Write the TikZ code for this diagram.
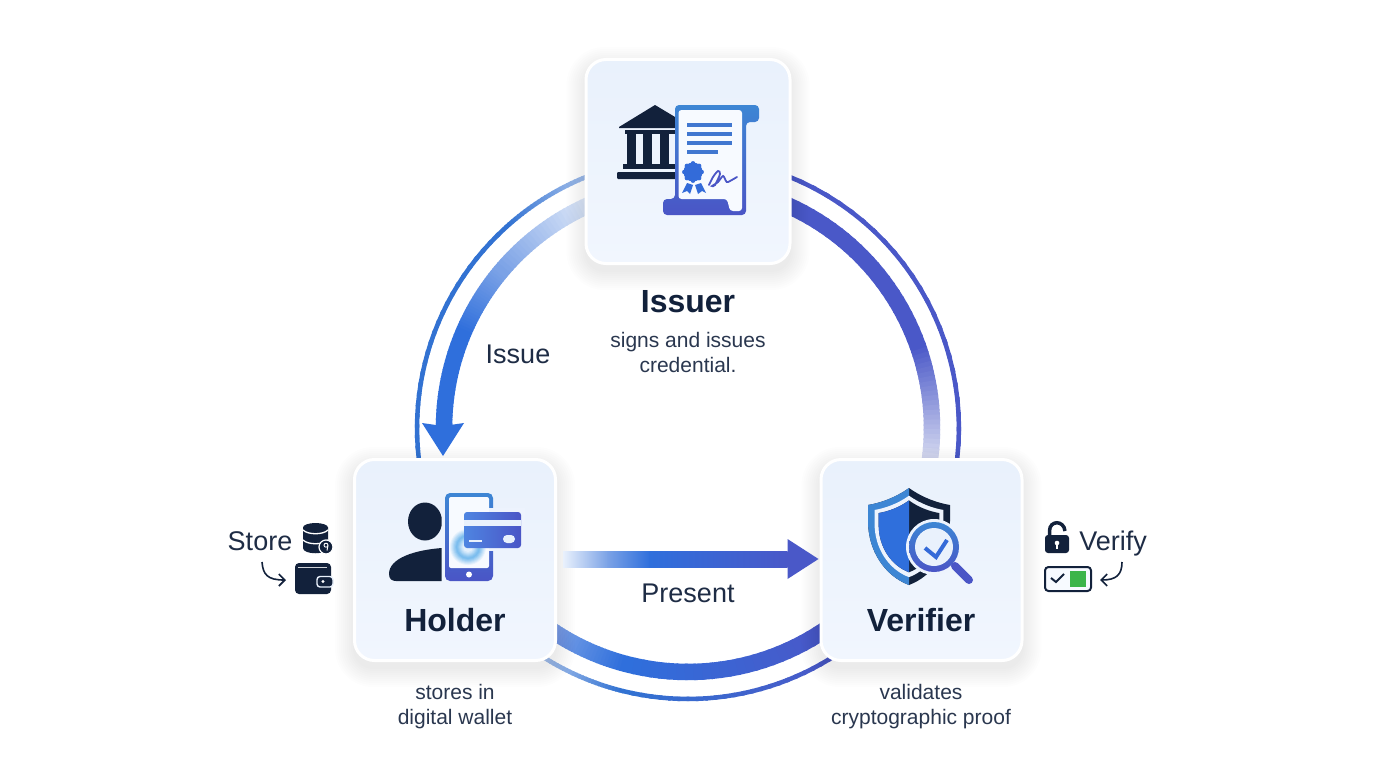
\documentclass[tikz,border=0pt]{standalone}
\usepackage{fontspec}
\setmainfont{Liberation Sans}
\usetikzlibrary{calc,backgrounds,arrows.meta}
\definecolor{inkdark}{HTML}{12213B}
\definecolor{ringblue}{HTML}{2F6FDC}
\definecolor{ringindigo}{HTML}{4A58C8}
\definecolor{ringmid}{HTML}{7BA2E6}
\definecolor{ringfaint}{HTML}{DDE7F8}
\definecolor{ringpale}{HTML}{A9C3EC}
\definecolor{ringfade}{HTML}{D2D6EF}
\definecolor{ringthin}{HTML}{3272D2}
\definecolor{cardtop}{HTML}{E9F1FC}
\definecolor{cardbot}{HTML}{F1F6FE}
\definecolor{cardmid}{HTML}{EDF3FD}
\definecolor{paperwhite}{HTML}{F7FAFF}
\definecolor{iconblue}{HTML}{3D86D4}
\definecolor{iconindigo}{HTML}{4A55C6}
\definecolor{glowblue}{HTML}{6DB6EC}
\definecolor{okgreen}{HTML}{3CB54A}
\newcommand{\ringgrad}[6]{%
	\foreach \i in {0,...,23}{%
		\pgfmathsetmacro\p{100*\i/23}
		\pgfmathsetmacro\a{#3+(#4-#3)*\i/24}
		\pgfmathsetmacro\b{#3+(#4-#3)*(\i+1.3)/24}
		\draw[line width=#2,color=#6!\p!#5] ($(ringc)+(\a:#1)$) -- ($(ringc)+(\b:#1)$);
	}%
}
\newcommand{\cardshadow}[1]{%
	\foreach \i in {0,2,...,18}{%
		\fill[black,opacity=0.007,rounded corners=20+\i] ($(#1.south west)+(-\i,\i+7)$) rectangle ($(#1.north east)+(\i,-\i+7)$);
	}%
}
\tikzset{
	cardbox/.style={draw=white,line width=3,rounded corners=20,top color=cardtop,bottom color=cardbot,minimum width=201,minimum height=201,inner sep=0},
	titletext/.style={inkdark,font=\fontsize{32}{36}\selectfont\bfseries,inner sep=0},
	desctext/.style={color=inkdark!90,font=\fontsize{21}{25}\selectfont,align=center,inner sep=0},
	looptext/.style={color=inkdark!95,font=\fontsize{27}{30}\selectfont,inner sep=0},
	thinarrow/.style={inkdark,line width=1.6,-{Straight Barb[length=6,width=12]}},
	shieldpath/.style={insert path={(0,-48) .. controls (-14,-38) and (-29,-33) .. (-41,-31) -- (-41,-15) .. controls (-41,15) and (-24,40) .. (0,49) .. controls (24,40) and (41,15) .. (41,-15) -- (41,-31) .. controls (29,-33) and (14,-38) .. (0,-48) -- cycle}}
}
\begin{document}
\begin{tikzpicture}[x=1pt,y=-1pt]
	\useasboundingbox (0,0) rectangle (1376,768);
	\coordinate (ringc) at (688,428);
	\node[cardbox,minimum width=204,minimum height=204] (issuer) at (688,161.5) {};
	\node[cardbox] (holder) at (455,560) {};
	\node[cardbox] (verifier) at (921.5,560) {};
	\begin{pgfonlayer}{background}
		\fill[white] (0,0) rectangle (1376,768);
		\ringgrad{244}{16.5}{246}{220}{ringfaint}{ringmid}
		\ringgrad{244}{16.5}{220}{203}{ringmid}{ringblue}
		\ringgrad{244}{16.5}{203}{178}{ringblue}{ringblue}
		\ringgrad{271}{4.5}{249}{228}{ringpale}{ringthin}
		\ringgrad{271}{4.5}{228}{174}{ringthin}{ringthin}
		\ringgrad{244}{16.5}{294}{340}{ringindigo}{ringindigo}
		\ringgrad{244}{16.5}{340}{367}{ringindigo}{ringfade}
		\ringgrad{271}{4.5}{291}{366}{ringindigo}{ringindigo}
		\ringgrad{244}{16.5}{124}{105}{ringmid}{ringblue}
		\ringgrad{244}{16.5}{105}{56}{ringblue}{ringindigo}
		\ringgrad{271}{4.5}{122}{104}{ringpale}{ringthin}
		\ringgrad{271}{4.5}{104}{57}{ringthin}{ringindigo}
		\cardshadow{issuer}
		\cardshadow{holder}
		\cardshadow{verifier}
		\fill[ringblue] (422,423) -- (443,426) -- (464,423) -- (443,456) -- cycle;
	\end{pgfonlayer}
	\coordinate (presentstart) at ($(holder.east)+(6,-1)$);
	\coordinate (presenttip) at ($(verifier.west)+(-1,-1)$);
	\shade[left color=cardtop,right color=ringmid] ($(presentstart)+(0,-8)$) rectangle ($(presentstart)+(45,8)$);
	\shade[left color=ringmid,right color=ringblue] ($(presentstart)+(44.5,-8)$) rectangle ($(presentstart)+(87,8)$);
	\shade[left color=ringblue,right color=ringindigo] ($(presentstart)+(86.5,-8)$) rectangle ($(presenttip)+(-31,8)$);
	\fill[ringindigo] ($(presenttip)+(-31,-20)$) -- (presenttip) -- ($(presenttip)+(-31,20)$) -- cycle;
	\node[titletext] (issuertitle) at (688,302) {Issuer};
	\node[titletext] (holdertitle) at (455,620) {Holder};
	\node[titletext] (verifiertitle) at (921,620) {Verifier};
	\node[desctext] (issuerdesc) at (688,352) {signs and issues\\credential.};
	\node[desctext] (holderdesc) at (455,706.5) {stores in\\digital wallet};
	\node[desctext] (verifierdesc) at (921,706.5) {validates\\cryptographic proof};
	\node[looptext] (issuelabel) at (518,354) {Issue};
	\node[looptext] (presentlabel) at (688,593) {Present};
	\node[looptext,anchor=base] (storelabel) at (260,550) {Store};
	\node[looptext,anchor=base] (verifylabel) at (1113,550) {Verify};

	% bank and scroll
	\fill[inkdark] (655,105) -- (619,127) -- (619,128) -- (680,128) -- (680,120) -- cycle;
	\fill[inkdark] (625,129.5) rectangle (680,134);
	\foreach \x in {627,643,660}{
		\fill[inkdark] (\x,134) rectangle (\x+9,165);
	}
	\fill[inkdark] (623,164) rectangle (680,169);
	\fill[inkdark,rounded corners=1] (617,172) rectangle (680,179);
	\shade[top color=iconblue,bottom color=iconindigo,rounded corners=4] (663,199) -- (675,199) -- (675,105) -- (759,105) -- (759,122) -- (746,122) -- (746,215) -- (663,215) -- cycle;
	\fill[paperwhite,rounded corners=3] (678.5,199) -- (678.5,110) -- (742,110) -- (742,211) -- (730,211) -- (727,199) -- cycle;
	\foreach \y/\e in {125/732,134/732,143/732,152/718}{
		\draw[iconblue!70!iconindigo,line width=3.2] (687,\y) -- (\e,\y);
	}
	\coordinate (seal) at (693,172);
	\fill[ringblue!85!iconindigo] (seal) circle (9.5);
	\foreach \a in {0,45,...,315}{
		\fill[ringblue!85!iconindigo] ($(seal)+(\a:8.5)$) circle (2.4);
	}
	\fill[ringblue!85!iconindigo] (687,183) -- (693,185) -- (690,194) -- (687,191) -- (682,193) -- cycle;
	\fill[ringblue!85!iconindigo] (695,185) -- (701,183) -- (706,193) -- (702,191) -- (698,194) -- cycle;
	\draw[iconindigo,line width=1.8,line cap=round] plot[smooth] coordinates {(709,185) (713,177) (718,171) (720,174) (715,185) (712,186) (718,182) (723,176) (726,181) (728,182) (737,177)};

	% holder icon
	\begin{scope}
		\clip (380,490) rectangle (441.5,590);
		\fill[inkdark] (425,521.5) ellipse (17 and 19);
		\fill[inkdark] (442,548) .. controls (415,550) and (389,558) .. (389,574) .. controls (389,579) and (392,581) .. (396,581) -- (442,581) -- cycle;
	\end{scope}
	\shade[top color=iconblue,bottom color=iconindigo,rounded corners=5] (445,493) rectangle (493,581);
	\fill[paperwhite,rounded corners=2] (449,497) rectangle (489,568);
	\fill[white] (469,574.5) circle (3);
	\fill[cardmid] (487,508) rectangle (525,551);
	\fill[paperwhite] (460,508) rectangle (489,551);
	\foreach \r/\m in {19/0,18/12,17/25,16/38,15/52,14/66,13/80,12/90,11/85,10/75,9/62,8/50,7/38,6/26,5/14}{
		\fill[glowblue!\m!paperwhite] (468,547) circle (\r);
	}
	\shade[left color=ringblue!85!white,right color=iconindigo,rounded corners=3] (464,512) rectangle (521,548);
	\fill[cardtop] (464,519.5) rectangle (521,526);
	\fill[cardtop] (469,539.7) rectangle (482,541.7);
	\fill[cardtop,rounded corners=4] (503,535) rectangle (515,543);

	% verifier icon
	\begin{scope}[shift={(909,536)}]
		\fill[inkdark,shieldpath];
		\begin{scope}
			\clip (-50,-55) rectangle (0,55);
			\fill[iconblue,shieldpath];
		\end{scope}
		\begin{scope}[scale=0.84]
			\fill[cardmid,shieldpath];
		\end{scope}
		\begin{scope}[scale=0.74]
			\fill[inkdark,shieldpath];
			\clip (-60,-70) rectangle (0,70);
			\fill[ringblue,shieldpath];
		\end{scope}
	\end{scope}
	\fill[cardmid] (934,547) circle (28);
	\draw[iconindigo,line width=8,line cap=round] (955,566) -- (969,580);
	\shade[top color=iconblue,bottom color=iconindigo] (934,547) circle (25);
	\fill[cardtop] (934,547) circle (19);
	\draw[ringblue!80!iconindigo,line width=4,line join=miter] (925,548) -- (936,557) -- (947,540);

	% store icons
	\fill[inkdark] (315.5,527.5) ellipse (12.5 and 4.5);
	\fill[inkdark] (303,527.5) -- (303,548) .. controls (303,555) and (328,555) .. (328,548) -- (328,527.5) -- cycle;
	\foreach \y in {530,540}{
		\draw[white,line width=1.3] (303,\y) .. controls (308,\y+5) and (323,\y+5) .. (328,\y);
	}
	\fill[inkdark,draw=white,line width=1.2] (326,547) circle (7);
	\draw[white,line width=0.9] (326,545.2) circle (2);
	\draw[white,line width=0.9] (328,545.5) -- (327,550.5);
	\coordinate (storefrom) at (262,562);
	\coordinate (storeto) at (286,580);
	\draw[thinarrow] (storefrom) .. controls (263,575) and (268,580) .. (storeto);
	\fill[inkdark,rounded corners=4] (295,563) rectangle (331,594);
	\draw[white!80!inkdark,line width=0.7] (298,567) -- (327,567);
	\fill[inkdark,draw=cardtop,line width=1.4,rounded corners=3] (317,576.5) rectangle (333,587);
	\fill[white] (323,581.5) circle (1.7);

	% verify icons
	\draw[inkdark,line width=3.5] (1049.5,537) -- (1049.5,531) .. controls (1049.5,520) and (1064,520) .. (1065,531);
	\fill[inkdark,rounded corners=3] (1045,535) rectangle (1069,553);
	\fill[white] (1057,543) circle (2.3);
	\fill[white] (1056,544) rectangle (1058,549);
	\draw[inkdark,fill=paperwhite,line width=2,rounded corners=3.5] (1045,567) rectangle (1091,591);
	\draw[inkdark,line width=2] (1051,578) -- (1056,582) -- (1064,574);
	\fill[okgreen] (1070,571) rectangle (1086,587);
	\coordinate (verifyfrom) at (1122,562);
	\coordinate (verifyto) at (1100,580);
	\draw[thinarrow] (verifyfrom) .. controls (1122,575) and (1116,580) .. (verifyto);
\end{tikzpicture}
\end{document}
